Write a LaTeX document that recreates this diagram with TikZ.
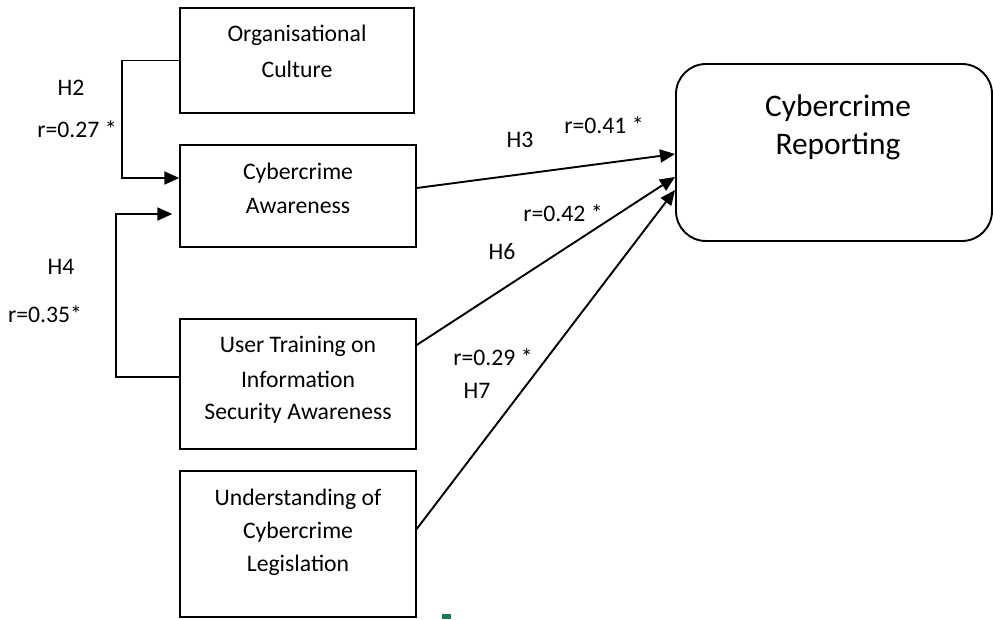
\documentclass[tikz,border=0pt]{standalone}
\usepackage{fontspec}
\setmainfont{Carlito}
\usetikzlibrary{arrows.meta}
\begin{document}
\begin{tikzpicture}[x=1pt,y=-1pt,
  box/.style={draw,line width=1.4pt,inner sep=0pt},
  txt/.style={inner sep=0pt,align=center,font=\fontsize{23.7}{33}\selectfont},
  lbl/.style={inner sep=0pt,font=\fontsize{23.7}{28}\selectfont},
  conn/.style={line width=1.9pt,-{Triangle[length=15pt,width=13pt]}}]
\useasboundingbox (0,0) rectangle (993,619);
% boxes
\node[box,minimum width=234pt,minimum height=105pt] (oc) at (297,60.5) {};
\node[box,minimum width=236pt,minimum height=102pt] (ca) at (298,196) {};
\node[box,minimum width=236pt,minimum height=130pt] (ut) at (298,384) {};
\node[box,minimum width=236pt,minimum height=146pt] (ul) at (298,544) {};
\node[box,rounded corners=30pt,line width=1.9pt,minimum width=316pt,minimum height=177pt] (cr) at (834,152.5) {};
% box texts
\node[txt] (toc1) at (297,35) {Organisational};
\node[txt] (toc2) at (297,69) {Culture};
\node[txt] (tca1) at (298,173) {Cybercrime};
\node[txt] (tca2) at (298,206) {Awareness};
\node[txt] (tut1) at (298,346) {User Training on};
\node[txt] (tut2) at (298,379) {Information};
\node[txt] (tut3) at (298,413) {Security Awareness};
\node[txt] (tul1) at (298,499) {Understanding of};
\node[txt] (tul2) at (298,532) {Cybercrime};
\node[txt] (tul3) at (298,565) {Legislation};
\node[inner sep=0pt,font=\fontsize{31.4}{38}\selectfont] (tcr1) at (838,108) {Cybercrime};
\node[inner sep=0pt,font=\fontsize{31.4}{38}\selectfont] (tcr2) at (838,146) {Reporting};
% connectors
\draw[conn] (oc.west) -- ++(-57,0) |- ([yshift=18pt]ca.west);
\draw[conn] ([yshift=7pt]ut.west) -- ++(-63,0) |- ([yshift=-18pt,xshift=-7pt]ca.west);
\coordinate (e3) at (675,154);
\coordinate (e6) at (675,177);
\coordinate (e7) at (675,190);
\draw[conn] ([yshift=8pt]ca.east) -- (e3);
\draw[conn] ([yshift=39pt]ut.east) -- (e6);
\draw[conn] ([yshift=15pt]ul.east) -- (e7);
% labels
\node[lbl] (h2) at (71,88) {H2};
\node[lbl] (r2) at (77,129) {r=0.27 *};
\node[lbl] (h4) at (61,267) {H4};
\node[lbl] (r4) at (45,314) {r=0.35*};
\node[lbl] (h3) at (520,140) {H3};
\node[lbl] (r3) at (604,125) {r=0.41 *};
\node[lbl] (r6) at (563,213) {r=0.42 *};
\node[lbl] (h6) at (502,252) {H6};
\node[lbl] (r7) at (493,357) {r=0.29 *};
\node[lbl] (h7) at (477,391) {H7};
% small green mark
\fill[fill={rgb,255:red,26;green,122;blue,80}] (442,614) rectangle (451,619);
\end{tikzpicture}
\end{document}
